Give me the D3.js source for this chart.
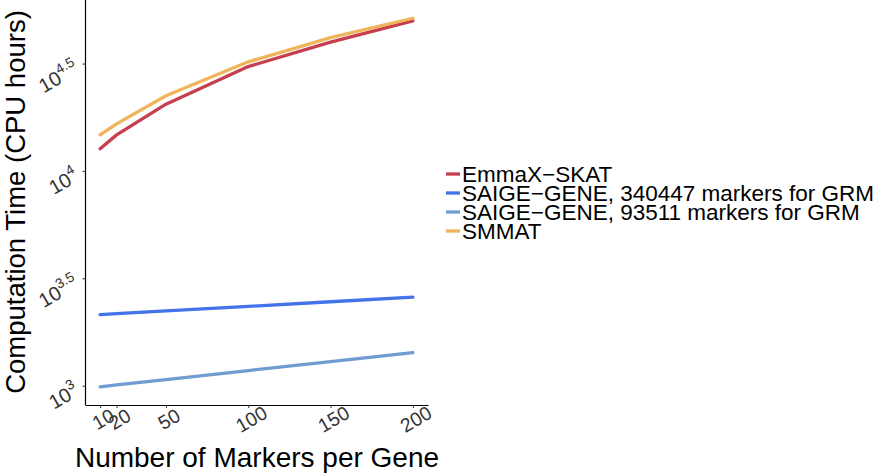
<!DOCTYPE html>
<html>
<head>
<meta charset="utf-8">
<script src="https://cdn.jsdelivr.net/npm/d3@7"></script>
<style>
  body { margin: 0; background: #fff; }
  svg text { font-family: "Liberation Sans", Arial, Helvetica, sans-serif; }
</style>
</head>
<body>
<svg width="878" height="475"></svg>
<script>
const svg = d3.select('svg');

// markers per gene
const markers = [10, 20, 50, 100, 150, 200];

// CPU hours
const emmax = [12680, 14720, 20460, 30620, 39810, 50000];
const saige340k = [2143, 2164, 2228, 2341, 2459, 2582];
const saige93k = [988, 1008, 1068, 1176, 1295, 1426];
const smmat = [14720, 16560, 22390, 32210, 41780, 51400];

const seriesNames = ['EmmaX\u2212SKAT', 'SAIGE\u2212GENE, 340447 markers for GRM', 'SAIGE\u2212GENE, 93511 markers for GRM', 'SMMAT'];
const seriesColors = ['#C63F4F', '#4373E8', '#709CD2', '#F0B45B'];
const seriesValues = [emmax, saige340k, saige93k, smmat];

const xTicks = [10, 20, 50, 100, 150, 200];
const yTickExps = ['3', '3.5', '4', '4.5'];

const xScale = d3.scaleLinear()
    .domain([0.5, 209.5])
    .range([84.5, 428.5]);

const yScale = d3.scaleLog()
    .domain([Math.pow(10, 2.91), Math.pow(10, 4.796)])
    .range([405, 0]);

const panelLeft = 85.5, panelBottom = 405;

// axes
const xAxis = svg.append('g')
    .attr('transform', `translate(0, ${panelBottom})`)
    .call(d3.axisBottom(xScale).tickValues(xTicks).tickSize(3).tickSizeOuter(0).tickFormat(''));
xAxis.select('.domain').attr('d', `M${panelLeft},0.5H428.5`).attr('stroke', '#000').attr('stroke-width', 1.2);
xAxis.selectAll('.tick line').attr('stroke', '#333');

const yAxis = svg.append('g')
    .attr('transform', `translate(${panelLeft}, 0)`)
    .call(d3.axisLeft(yScale).tickValues(yTickExps.map(e => Math.pow(10, +e))).tickSize(3).tickSizeOuter(0).tickFormat(''));
yAxis.select('.domain').attr('d', 'M0,0V405').attr('stroke', '#000').attr('stroke-width', 1.2);
yAxis.selectAll('.tick line').attr('stroke', '#333');

// x tick labels, rotated
svg.append('g').selectAll('text').data(xTicks)
  .enter().append('text')
    .attr('transform', d => `translate(${xScale(d) + 3}, 419) rotate(-30)`)
    .attr('text-anchor', 'middle')
    .attr('dominant-baseline', 'central')
    .attr('font-size', 19.5)
    .attr('fill', '#333')
    .text(d => d);

// y tick labels: 10^e, rotated
const yl = svg.append('g').selectAll('text').data(yTickExps)
  .enter().append('text')
    .attr('transform', d => `translate(80, ${yScale(Math.pow(10, +d)) + 9}) rotate(-30)`)
    .attr('text-anchor', 'end')
    .attr('font-size', 20)
    .attr('fill', '#333');
yl.append('tspan').text('10');
yl.append('tspan').attr('font-size', 14).attr('dy', -9).text(d => d);

// lines
const line = d3.line()
    .x((d, i) => xScale(markers[i]))
    .y(d => yScale(d));

svg.append('g').selectAll('path').data(seriesValues)
  .enter().append('path')
    .attr('d', line)
    .attr('fill', 'none')
    .attr('stroke', (d, i) => seriesColors[i])
    .attr('stroke-width', 3.3)
    .attr('stroke-linejoin', 'round')
    .attr('stroke-linecap', 'round');

// titles
svg.append('text')
    .attr('x', 257).attr('y', 467)
    .attr('text-anchor', 'middle')
    .attr('font-size', 28)
    .text('Number of Markers per Gene');

svg.append('text')
    .attr('transform', `translate(25, 202) rotate(-90)`)
    .attr('text-anchor', 'middle')
    .attr('font-size', 27.5)
    .text('Computation Time (CPU hours)');

// legend
const legend = svg.append('g').selectAll('g').data(seriesNames)
  .enter().append('g')
    .attr('transform', (d, i) => `translate(446, ${174 + i * 19})`);
legend.append('line')
    .attr('x1', 0).attr('x2', 14)
    .attr('stroke', (d, i) => seriesColors[i])
    .attr('stroke-width', 3.3);
legend.append('text')
    .attr('x', 16)
    .attr('dominant-baseline', 'central')
    .attr('font-size', 22.5)
    .text(d => d);
</script>
</body>
</html>
